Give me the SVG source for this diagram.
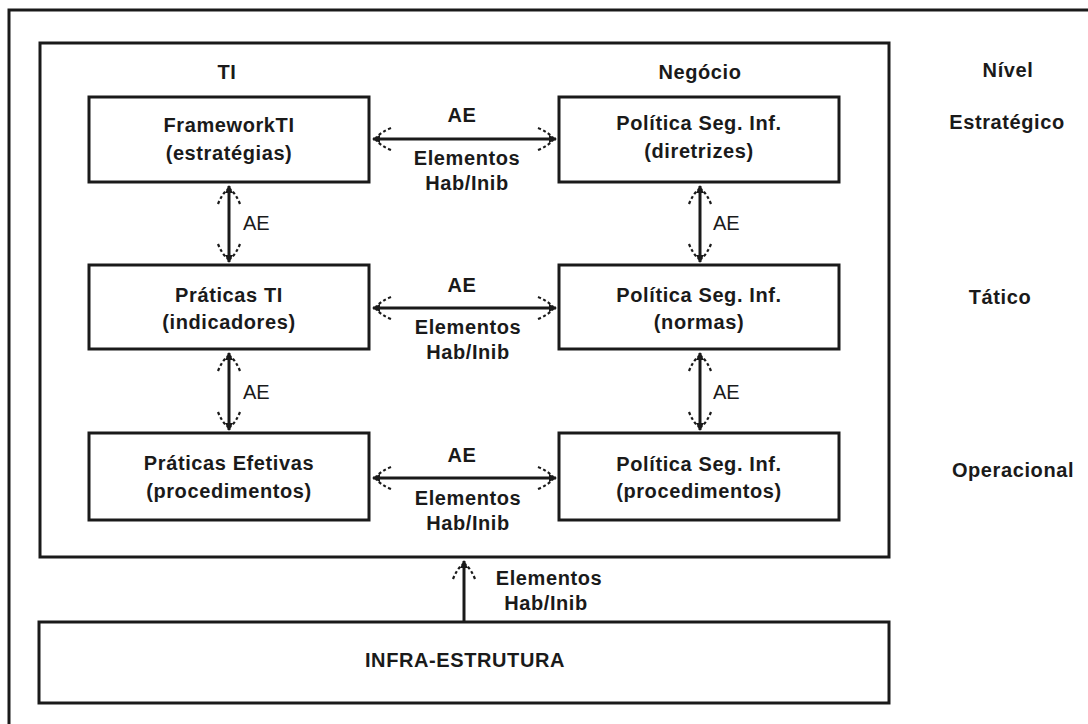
<svg xmlns="http://www.w3.org/2000/svg" width="1088" height="724" viewBox="0 0 1088 724">
<style>
.box{fill:#fff;stroke:#1a1a1a;stroke-width:3}
.frame{fill:none;stroke:#1a1a1a;stroke-width:3}
.t{font-family:"Liberation Sans",Arial,sans-serif;font-size:20px;font-weight:bold;fill:#1a1a1a;text-anchor:middle;letter-spacing:0.6px}
.r{font-family:"Liberation Sans",Arial,sans-serif;font-size:20px;fill:#1a1a1a;text-anchor:start}
.c{stroke:#1a1a1a;stroke-width:3;fill:none}
</style>
<defs>
<marker id="ah" markerUnits="userSpaceOnUse" markerWidth="30" markerHeight="30" viewBox="-22 -15 26 30" refX="0" refY="0" orient="auto-start-reverse" overflow="visible">
<path d="M1,0 L-7,-4 L-7,4 Z" fill="#1a1a1a"/>
<path d="M-18,-11 Q-8,-7 -3,-1 M-18,11 Q-8,7 -3,1" fill="none" stroke="#1a1a1a" stroke-width="2.2" stroke-dasharray="3,2.5"/>
</marker>
</defs>
<rect width="1088" height="724" fill="#fff"/>
<rect id="outer" x="9" y="10" width="1100" height="740" class="frame"/>
<g id="container">
<rect x="40" y="43" width="849" height="514" class="frame"/>
<text class="t" x="227" y="79">TI</text>
<text class="t" x="700" y="79">Negócio</text>
</g>
<g id="levels">
<text class="t" x="1008" y="77">Nível</text>
<text class="t" x="1007" y="129">Estratégico</text>
<text class="t" x="1000" y="304">Tático</text>
<text class="t" x="1013" y="477">Operacional</text>
</g>
<g id="framework">
<rect x="89" y="97" width="280" height="85" class="box"/>
<text class="t" x="229" y="132">FrameworkTI</text>
<text class="t" x="229" y="160">(estratégias)</text>
</g>
<g id="pol1">
<rect x="559" y="97" width="280" height="85" class="box"/>
<text class="t" x="699" y="130">Política Seg. Inf.</text>
<text class="t" x="699" y="158">(diretrizes)</text>
</g>
<g id="praticas">
<rect x="89" y="265" width="280" height="84" class="box"/>
<text class="t" x="229" y="302">Práticas TI</text>
<text class="t" x="229" y="329">(indicadores)</text>
</g>
<g id="pol2">
<rect x="559" y="265" width="280" height="84" class="box"/>
<text class="t" x="699" y="302">Política Seg. Inf.</text>
<text class="t" x="699" y="329">(normas)</text>
</g>
<g id="efetivas">
<rect x="89" y="433" width="280" height="87" class="box"/>
<text class="t" x="229" y="470">Práticas Efetivas</text>
<text class="t" x="229" y="498">(procedimentos)</text>
</g>
<g id="pol3">
<rect x="559" y="433" width="280" height="87" class="box"/>
<text class="t" x="699" y="471">Política Seg. Inf.</text>
<text class="t" x="699" y="498">(procedimentos)</text>
</g>
<g id="infra">
<rect x="39" y="622" width="850" height="81" class="box"/>
<text class="t" x="465" y="667">INFRA-ESTRUTURA</text>
</g>
<g id="connectors">
<line class="c" x1="373" y1="139" x2="556" y2="139" marker-start="url(#ah)" marker-end="url(#ah)"/>
<line class="c" x1="373" y1="308" x2="556" y2="308" marker-start="url(#ah)" marker-end="url(#ah)"/>
<line class="c" x1="373" y1="478" x2="556" y2="478" marker-start="url(#ah)" marker-end="url(#ah)"/>
<line class="c" x1="229" y1="186" x2="229" y2="262" marker-start="url(#ah)" marker-end="url(#ah)"/>
<line class="c" x1="229" y1="353" x2="229" y2="430" marker-start="url(#ah)" marker-end="url(#ah)"/>
<line class="c" x1="700" y1="186" x2="700" y2="262" marker-start="url(#ah)" marker-end="url(#ah)"/>
<line class="c" x1="700" y1="353" x2="700" y2="430" marker-start="url(#ah)" marker-end="url(#ah)"/>
<line class="c" x1="464" y1="621" x2="464" y2="561" stroke-width="2.5" marker-end="url(#ah)"/>
<text class="t" x="462" y="122">AE</text>
<text class="t" x="467" y="165">Elementos</text>
<text class="t" x="467" y="190">Hab/Inib</text>
<text class="t" x="462" y="292">AE</text>
<text class="t" x="468" y="334">Elementos</text>
<text class="t" x="468" y="359">Hab/Inib</text>
<text class="t" x="462" y="462">AE</text>
<text class="t" x="468" y="505">Elementos</text>
<text class="t" x="468" y="530">Hab/Inib</text>
<text class="r" x="243" y="230">AE</text>
<text class="r" x="243" y="399">AE</text>
<text class="r" x="713" y="230">AE</text>
<text class="r" x="713" y="399">AE</text>
<text class="t" x="549" y="585">Elementos</text>
<text class="t" x="546" y="610">Hab/Inib</text>
</g>
</svg>
